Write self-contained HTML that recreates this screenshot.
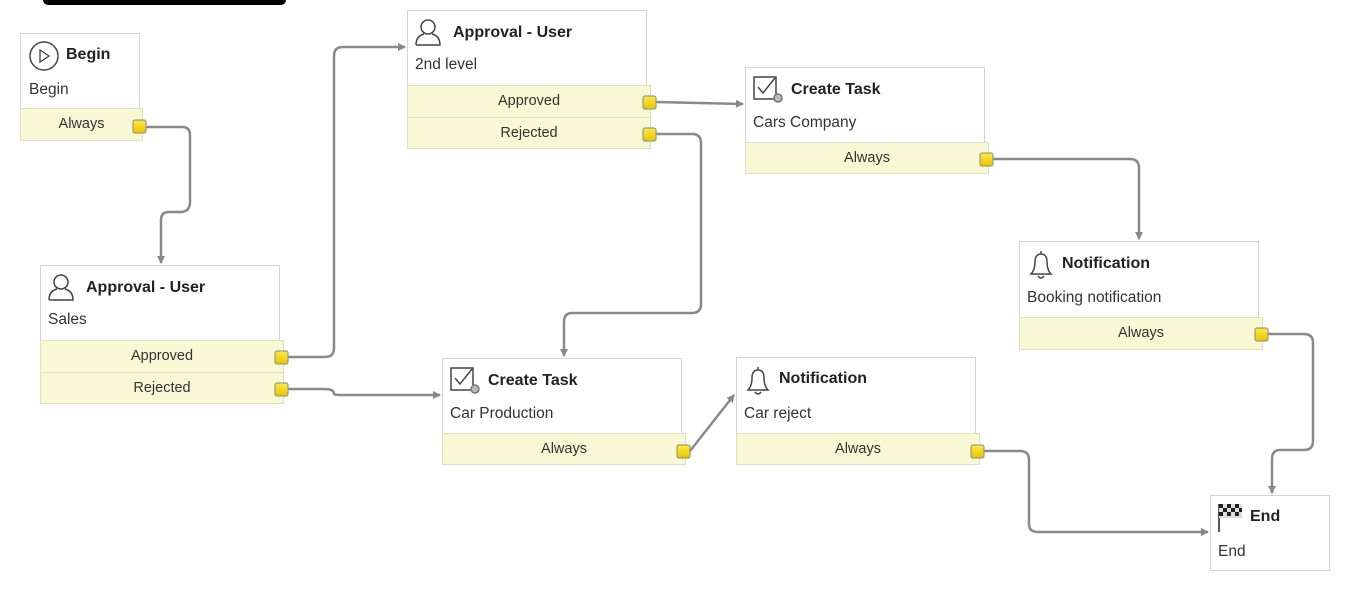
<!DOCTYPE html>
<html><head><meta charset="utf-8"><style>
body{margin:0;width:1360px;height:599px;background:#fff;position:relative;overflow:hidden;font-family:"Liberation Sans",Arial,sans-serif;color:#222}
.n{position:absolute;background:#fff;border:1px solid #d4d4d4;box-sizing:border-box}
.t{position:absolute;font-weight:bold;font-size:16px}
.s{position:absolute;font-size:15.5px;color:#333}
.r{position:absolute;background:#f8f8d4;border:1px solid #e0e0c8;box-sizing:border-box;font-size:14.5px;text-align:center;line-height:30px;color:#333}
.bar{position:absolute;left:43px;top:-6px;width:243px;height:11px;background:#000;border-radius:5px}
</style></head><body>
<div class="bar"></div>

<!-- Begin -->
<div class="n" style="left:20px;top:33px;width:120px;height:76px"></div>
<div class="t" style="left:66px;top:46px">Begin</div>
<div class="s" style="left:29px;top:81px">Begin</div>
<div class="r" style="left:20px;top:108px;width:123px;height:33px">Always</div>

<!-- Approval Sales -->
<div class="n" style="left:40px;top:265px;width:240px;height:76px"></div>
<div class="t" style="left:86px;top:279px">Approval - User</div>
<div class="s" style="left:48px;top:311px">Sales</div>
<div class="r" style="left:40px;top:340px;width:244px;height:33px">Approved</div>
<div class="r" style="left:40px;top:372px;width:244px;height:32px">Rejected</div>

<!-- Approval 2nd -->
<div class="n" style="left:407px;top:10px;width:240px;height:76px"></div>
<div class="t" style="left:453px;top:24px">Approval - User</div>
<div class="s" style="left:415px;top:56px">2nd level</div>
<div class="r" style="left:407px;top:85px;width:244px;height:33px">Approved</div>
<div class="r" style="left:407px;top:117px;width:244px;height:32px">Rejected</div>

<!-- Create Task Cars Company -->
<div class="n" style="left:745px;top:67px;width:240px;height:76px"></div>
<div class="t" style="left:791px;top:81px">Create Task</div>
<div class="s" style="left:753px;top:114px">Cars Company</div>
<div class="r" style="left:745px;top:142px;width:244px;height:32px">Always</div>

<!-- Notification Booking -->
<div class="n" style="left:1019px;top:241px;width:240px;height:77px"></div>
<div class="t" style="left:1062px;top:255px">Notification</div>
<div class="s" style="left:1027px;top:289px">Booking notification</div>
<div class="r" style="left:1019px;top:317px;width:244px;height:33px">Always</div>

<!-- Create Task Car Production -->
<div class="n" style="left:442px;top:358px;width:240px;height:76px"></div>
<div class="t" style="left:488px;top:372px">Create Task</div>
<div class="s" style="left:450px;top:405px">Car Production</div>
<div class="r" style="left:442px;top:433px;width:244px;height:32px">Always</div>

<!-- Notification Car reject -->
<div class="n" style="left:736px;top:357px;width:240px;height:77px"></div>
<div class="t" style="left:779px;top:370px">Notification</div>
<div class="s" style="left:744px;top:405px">Car reject</div>
<div class="r" style="left:736px;top:433px;width:244px;height:32px">Always</div>

<!-- End -->
<div class="n" style="left:1210px;top:495px;width:120px;height:76px"></div>
<div class="t" style="left:1250px;top:508px">End</div>
<div class="s" style="left:1218px;top:543px">End</div>

<svg width="1360" height="599" style="position:absolute;left:0;top:0" xmlns="http://www.w3.org/2000/svg">
<defs>
<marker id="a" markerWidth="8" markerHeight="8" refX="7" refY="4" orient="auto" markerUnits="userSpaceOnUse"><path d="M0,0 L8,4 L0,8z" fill="#888"/></marker>
<linearGradient id="y" x1="0" y1="0" x2="0" y2="1"><stop offset="0" stop-color="#ffe94a"/><stop offset="1" stop-color="#e8c200"/></linearGradient>
</defs>
<g fill="none" stroke="#8a8a8a" stroke-width="2.5" marker-end="url(#a)">
<path d="M146,127 H182 Q190,127 190,135 V202 Q190,212 180,212 H169 Q161,212 161,220 V263"/>
<path d="M288,357 H325 Q334,357 334,348 V56 Q334,47 343,47 H405"/>
<path d="M288,389 H325 Q334,389 334,394 Q334,395 343,395 H440"/>
<path d="M656,102 L743,104"/>
<path d="M656,134 H692 Q701,134 701,143 V304 Q701,313 692,313 H572 Q564,313 564,322 V356"/>
<path d="M993,159 H1130 Q1139,159 1139,168 V239"/>
<path d="M690,451 L734,395"/>
<path d="M984,451 H1020 Q1029,451 1029,460 V524 Q1029,532 1038,532 H1208"/>
<path d="M1268,334 H1304 Q1313,334 1313,343 V441 Q1313,450 1304,450 H1280 Q1272,450 1272,459 V493"/>
</g>
<g fill="url(#y)" stroke="#9a9a80" stroke-width="1.2">
<rect x="133" y="120" width="13" height="13" rx="2"/>
<rect x="275" y="351" width="13" height="13" rx="2"/>
<rect x="275" y="383" width="13" height="13" rx="2"/>
<rect x="643" y="96" width="13" height="13" rx="2"/>
<rect x="643" y="128" width="13" height="13" rx="2"/>
<rect x="980" y="153" width="13" height="13" rx="2"/>
<rect x="1255" y="328" width="13" height="13" rx="2"/>
<rect x="677" y="445" width="13" height="13" rx="2"/>
<rect x="971" y="445" width="13" height="13" rx="2"/>
</g>
<!-- icons -->
<g fill="none" stroke="#444" stroke-width="1.5">
<circle cx="44" cy="56" r="14"/><path d="M40,50 L49,56 L40,62z" stroke-width="1.3"/>
<g transform="translate(48,273)"><circle cx="13" cy="9" r="7"/><path d="M1,27 Q1,18 9,16 M17,16 Q25,18 25,27 H1"/></g>
<g transform="translate(415,18)"><circle cx="13" cy="9" r="7"/><path d="M1,27 Q1,18 9,16 M17,16 Q25,18 25,27 H1"/></g>
<g transform="translate(753,75)"><rect x="1" y="2" width="22" height="22"/><path d="M5,12 L10,18 L22,3"/><circle cx="25" cy="23" r="4" fill="#bbb" stroke="#777"/></g>
<g transform="translate(450,366)"><rect x="1" y="2" width="22" height="22"/><path d="M5,12 L10,18 L22,3"/><circle cx="25" cy="23" r="4" fill="#bbb" stroke="#777"/></g>
<g transform="translate(1028,250)"><path d="M3,24 Q7,20 7,12 Q7,4 13,4 Q19,4 19,12 Q19,20 23,24 Z M13,1 V4 M10,26 Q13,30 16,26"/></g>
<g transform="translate(745,366)"><path d="M3,24 Q7,20 7,12 Q7,4 13,4 Q19,4 19,12 Q19,20 23,24 Z M13,1 V4 M10,26 Q13,30 16,26"/></g>
<path d="M1219,504 V532" stroke="#222"/>
</g>
<g fill="#222"><rect x="1219" y="504" width="23" height="14" fill="#ddd"/>
<path d="M1219,504h4v4h-4zM1227,504h4v4h-4zM1235,504h4v4h-4zM1223,508h4v4h-4zM1231,508h4v4h-4zM1239,508h3v4h-3zM1219,512h4v4h-4zM1227,512h4v4h-4zM1235,512h4v4h-4z"/></g>
</svg>
</body></html>
